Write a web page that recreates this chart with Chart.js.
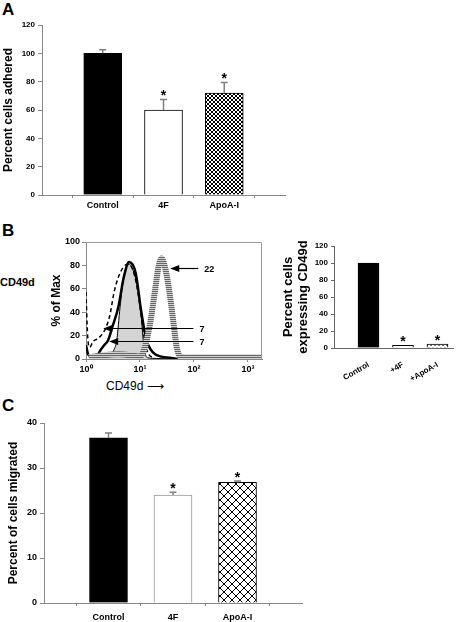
<!DOCTYPE html>
<html>
<head>
<meta charset="utf-8">
<script src="https://cdn.jsdelivr.net/npm/chart.js@4.4.0/dist/chart.umd.min.js"></script>
<style>
body { margin: 0; background: #fff; width: 473px; height: 622px; position: relative; overflow: hidden; font-family: "Liberation Sans", Arial, sans-serif; }
canvas { position: absolute; }
.lbl { position: absolute; font-weight: bold; line-height: 1; white-space: nowrap; }
</style>
</head>
<body>
<div class="lbl" style="left:2px;top:1px;font-size:17px">A</div>
<div class="lbl" style="left:2px;top:222px;font-size:17px">B</div>
<div class="lbl" style="left:2px;top:397px;font-size:17px">C</div>
<div class="lbl" style="left:0px;top:277px;font-size:11px">CD49d</div>
<div class="lbl" style="left:106px;top:380px;font-size:12px;font-weight:normal">CD49d &#x27F6;</div>

<canvas id="chartA" width="300" height="215" style="left:0;top:0"></canvas>
<canvas id="chartFlow" width="275" height="160" style="left:0;top:225px"></canvas>
<canvas id="chartExpr" width="198" height="160" style="left:275px;top:225px"></canvas>
<canvas id="chartC" width="320" height="222" style="left:0;top:400px"></canvas>

<script>
// ---- panel A: adhesion ----
const adhesionLabels = ['', 'Control', '4F', 'ApoA-I', ''];
const adhesionValues = [null, 100, 60, 72, null];
const adhesionErrors = [null, 2.5, 7.5, 7.5, null];
const adhesionStars = [false, false, true, true, false];

// ---- panel B: flow histograms (x = log10 intensity, y = % of max) ----
const flowTicks = [0, 1, 2, 3];
const shiftedLogX = [0.05, 0.3, 0.6, 0.85, 1.0, 1.09, 1.19, 1.28, 1.34, 1.4, 1.46, 1.54, 1.62, 1.68, 1.75, 1.85, 2.3, 2.8, 3.26];
const shiftedPct  = [1.5, 3, 4, 3, 2, 10, 31, 59, 78, 86, 79, 59, 31, 10, 2, 1.5, 1.5, 1.5, 1.5];
const filledLogX = [0.1, 0.3, 0.45, 0.52, 0.57, 0.63, 0.7, 0.8, 0.9, 0.96, 1.01, 1.06, 1.1, 1.15, 1.3, 1.6];
const filledPct  = [1, 1.5, 3, 8, 16, 44, 70, 81, 72, 60, 44, 16, 4, 1, 0.5, 0];
const thickLogX = [0, 0.04, 0.1, 0.2, 0.27, 0.34, 0.41, 0.49, 0.6, 0.7, 0.8, 0.92, 1.01, 1.07, 1.12, 1.2, 1.28, 1.4, 1.55, 1.7];
const thickPct  = [12, 4, 2, 2.5, 7.7, 12, 16, 27.6, 44.7, 70, 83, 73.5, 44.7, 27.6, 16, 8, 4, 2, 1, 0];
const dashedLogX = [0, 0.03, 0.07, 0.13, 0.2, 0.28, 0.36, 0.44, 0.52, 0.6, 0.7, 0.78, 0.86, 0.93, 1.0, 1.05, 1.1, 1.16, 1.25];
const dashedPct  = [57, 20, 10, 15, 17, 20, 26, 37, 57, 70, 79, 81, 77, 65, 45, 27, 12, 4, 1];
const arrowTipX = [1.56, 0.32, 0.43];
const arrowEndX = [2.08, 1.99, 1.99];
const arrowY = [77.5, 26.8, 15.4];
const arrowText = ['22', '7', '7'];

// ---- panel B: percent expressing ----
const exprLabels = ['Control', '+4F', '+ApoA-I'];
const exprValues = [100, 3, 4.5];
const exprStars = [false, true, true];

// ---- panel C: migration ----
const migrationLabels = ['', 'Control', '4F', 'ApoA-I', ''];
const migrationValues = [null, 36.7, 24.0, 26.8, null];
const migrationErrors = [null, 1.1, 0.6, 0.3, null];
const migrationStars = [false, false, true, true, false];

const FONT = '"Liberation Sans", Arial, sans-serif';
Chart.defaults.font.family = FONT;
Chart.defaults.font.weight = 'bold';
Chart.defaults.color = '#000';
Chart.defaults.animation = false;
Chart.defaults.plugins.legend.display = false;
Chart.defaults.plugins.tooltip.enabled = false;

function makePattern(canvasId, w, h, draw) {
    const c = document.createElement('canvas');
    c.width = w; c.height = h;
    const g = c.getContext('2d');
    g.fillStyle = '#fff';
    g.fillRect(0, 0, w, h);
    draw(g);
    return document.getElementById(canvasId).getContext('2d').createPattern(c, 'repeat');
}

// error bars (upper only) + significance stars
const errorBarPlugin = {
    id: 'errorBars',
    afterDatasetsDraw(chart) {
        const ds = chart.data.datasets[0];
        const meta = chart.getDatasetMeta(0);
        const y = chart.scales.y;
        const ctx = chart.ctx;
        ctx.save();
        meta.data.forEach((bar, i) => {
            const v = ds.data[i] && ds.data[i].y !== undefined ? ds.data[i].y : ds.data[i];
            if (v == null) return;
            const err = ds.errors ? (ds.errors[i] || 0) : 0;
            const top = y.getPixelForValue(v + err);
            if (err > 0) {
                ctx.strokeStyle = '#808080';
                ctx.lineWidth = 1.5;
                ctx.beginPath();
                ctx.moveTo(bar.x, bar.y);
                ctx.lineTo(bar.x, top);
                ctx.moveTo(bar.x - 3.5, top);
                ctx.lineTo(bar.x + 3.5, top);
                ctx.stroke();
            }
            if (ds.stars && ds.stars[i]) {
                ctx.fillStyle = '#000';
                ctx.font = 'bold 14px ' + FONT;
                ctx.textAlign = 'center';
                ctx.textBaseline = 'alphabetic';
                ctx.fillText('*', bar.x, top + 1);
            }
        });
        ctx.restore();
    }
};

function barChart(id, labels, values, errors, stars, colors, borders, opts) {
    return new Chart(document.getElementById(id), {
        type: 'bar',
        data: {
            labels: labels,
            datasets: [{
                data: values,
                errors: errors,
                stars: stars,
                backgroundColor: colors,
                borderColor: borders,
                borderWidth: 1,
                borderSkipped: 'bottom',
                barThickness: opts.barWidth
            }]
        },
        options: {
            responsive: false,
            layout: { padding: { top: opts.padTop, right: opts.padRight, left: 0, bottom: 0 } },
            scales: {
                x: {
                    offset: false,
                    grid: { drawOnChartArea: false, tickLength: 3, color: '#888' },
                    border: { color: '#888' },
                    ticks: { font: { size: 9 }, padding: opts.labelPad, maxRotation: 0, autoSkip: false },
                    afterFit(s) { s.height = opts.xHeight; }
                },
                y: {
                    min: 0, max: opts.yMax,
                    grid: { drawOnChartArea: false, tickLength: 4, color: '#888' },
                    border: { color: '#888' },
                    ticks: { stepSize: opts.yStep, font: { size: opts.tickSize }, padding: 3 },
                    title: { display: true, text: opts.yTitle, font: { size: 12 }, padding: { top: opts.titlePad, bottom: 0 } },
                    afterFit(s) { s.width = opts.yWidth; }
                }
            }
        },
        plugins: [errorBarPlugin]
    });
}

// ---------- panel A ----------
const fineCheck = makePattern('chartA', 4, 4, g => {
    g.fillStyle = '#000';
    for (let i = 0; i < 4; i++) { g.fillRect(i, i, 1, 1); g.fillRect(3 - i, i, 1, 1); }
});
barChart('chartA', adhesionLabels, adhesionValues, adhesionErrors, adhesionStars,
    ['#fff', '#000', '#fff', fineCheck, '#fff'], '#000',
    { barWidth: 38, padTop: 25, padRight: 15, xHeight: 20, labelPad: 2, yMax: 120, yStep: 20,
      tickSize: 8, yTitle: 'Percent cells adhered', titlePad: 1, yWidth: 42 });

// ---------- panel B, flow histogram ----------
function points(xs, ys) { return xs.map((v, i) => ({ x: v, y: ys[i] })); }
const stripes = makePattern('chartFlow', 1, 2, g => {
    g.fillStyle = '#666';
    g.fillRect(0, 0, 1, 1);
    g.fillStyle = '#d0d0d0';
    g.fillRect(0, 1, 1, 1);
});
const sup = ['\u2070', '\u00B9', '\u00B2', '\u00B3'];

const flowNotes = {
    id: 'flowNotes',
    afterDatasetsDraw(chart) {
        const { ctx, chartArea: a, scales: { x, y } } = chart;
        ctx.save();
        ctx.strokeStyle = '#999';
        ctx.lineWidth = 1;
        ctx.beginPath();
        ctx.moveTo(a.left, a.top + 0.5);
        ctx.lineTo(a.right - 0.5, a.top + 0.5);
        ctx.lineTo(a.right - 0.5, a.bottom);
        ctx.stroke();
        ctx.strokeStyle = '#000';
        ctx.fillStyle = '#000';
        ctx.lineWidth = 1.2;
        ctx.font = 'bold 9px ' + FONT;
        ctx.textAlign = 'left';
        ctx.textBaseline = 'middle';
        arrowTipX.forEach((tx, i) => {
            const x0 = x.getPixelForValue(tx);
            const x1 = x.getPixelForValue(arrowEndX[i]);
            const py = Math.round(y.getPixelForValue(arrowY[i])) + 0.5;
            ctx.beginPath();
            ctx.moveTo(x1, py);
            ctx.lineTo(x0 + 6, py);
            ctx.stroke();
            ctx.beginPath();
            ctx.moveTo(x0, py);
            ctx.lineTo(x0 + 9, py - 3.5);
            ctx.lineTo(x0 + 9, py + 3.5);
            ctx.closePath();
            ctx.fill();
            ctx.fillText(arrowText[i], x1 + 6, py + 1);
        });
        ctx.restore();
    }
};

new Chart(document.getElementById('chartFlow'), {
    type: 'line',
    data: {
        datasets: [
            { data: points(shiftedLogX, shiftedPct), borderColor: stripes, borderWidth: 6, fill: false },
            { data: points(thickLogX, thickPct), borderColor: '#000', borderWidth: 2.5, fill: false },
            { data: points(dashedLogX, dashedPct), borderColor: '#000', borderWidth: 1.5, borderDash: [4, 3], fill: false },
            { data: points(filledLogX, filledPct), borderColor: '#000', borderWidth: 1, backgroundColor: '#d4d4d4', fill: 'origin' }
        ]
    },
    options: {
        responsive: false,
        elements: { point: { radius: 0 }, line: { cubicInterpolationMode: 'monotone' } },
        layout: { padding: { top: 17, right: 13, left: 49, bottom: 0 } },
        scales: {
            x: {
                type: 'linear', min: 0, max: 3.26,
                afterBuildTicks(s) { s.ticks = flowTicks.map(v => ({ value: v })); },
                grid: { drawOnChartArea: false, tickLength: 3, color: '#888' },
                border: { color: '#888' },
                ticks: { font: { size: 9 }, padding: 2, maxRotation: 0, callback: v => '10' + sup[v] },
                afterFit(s) { s.height = 26; }
            },
            y: {
                min: 0, max: 100,
                grid: { drawOnChartArea: false, tickLength: 4, color: '#888' },
                border: { color: '#888' },
                ticks: { stepSize: 20, font: { size: 9 }, padding: 2 },
                title: { display: true, text: '% of Max', font: { size: 12 }, padding: 0 },
                afterFit(s) { s.width = 37; }
            }
        }
    },
    plugins: [flowNotes]
});

// ---------- panel B, percent expressing ----------
const smallCheck = makePattern('chartExpr', 4, 4, g => {
    g.fillStyle = '#777';
    for (let i = 0; i < 4; i += 2) { g.fillRect(i, i, 1, 1); g.fillRect(3 - i, i, 1, 1); }
});
new Chart(document.getElementById('chartExpr'), {
    type: 'bar',
    data: {
        datasets: [{
            data: exprValues.map((v, i) => ({ x: i + 1, y: v })),
            stars: exprStars,
            backgroundColor: ['#000', '#fff', smallCheck],
            borderColor: '#000',
            borderWidth: 1,
            barThickness: 21
        }]
    },
    options: {
        responsive: false,
        layout: { padding: { top: 21, right: 20, left: 6, bottom: 0 } },
        scales: {
            x: {
                type: 'linear', min: 0, max: 3.45, offset: false,
                afterBuildTicks(s) { s.ticks = exprLabels.map((_, i) => ({ value: i + 1 })); },
                grid: { display: false },
                border: { color: '#666' },
                ticks: { font: { size: 8 }, padding: 4, minRotation: 30, maxRotation: 30, callback: v => exprLabels[v - 1] },
                afterFit(s) { s.height = 37; }
            },
            y: {
                min: 0, max: 120,
                grid: { drawOnChartArea: false, tickLength: 3, color: '#666' },
                border: { color: '#666' },
                ticks: { stepSize: 20, font: { size: 8 }, padding: 3 },
                title: { display: true, text: ['Percent cells', 'expressing CD49d'], font: { size: 13, lineHeight: 1.15 }, padding: 0 },
                afterFit(s) { s.width = 53; }
            }
        }
    },
    plugins: [errorBarPlugin]
});

// ---------- panel C ----------
const crossHatch = makePattern('chartC', 8, 8, g => {
    g.strokeStyle = '#000';
    g.lineWidth = 1;
    g.beginPath();
    g.moveTo(0, 0); g.lineTo(8, 8);
    g.moveTo(8, 0); g.lineTo(0, 8);
    g.stroke();
});
barChart('chartC', migrationLabels, migrationValues, migrationErrors, migrationStars,
    ['#fff', '#000', '#fff', crossHatch, '#fff'], ['#000', '#000', '#999', '#000', '#000'],
    { barWidth: 38, padTop: 23, padRight: 18, xHeight: 19, labelPad: 6, yMax: 40, yStep: 10,
      tickSize: 9, yTitle: 'Percent of cells migrated', titlePad: 6, yWidth: 44 });
</script>
</body>
</html>
